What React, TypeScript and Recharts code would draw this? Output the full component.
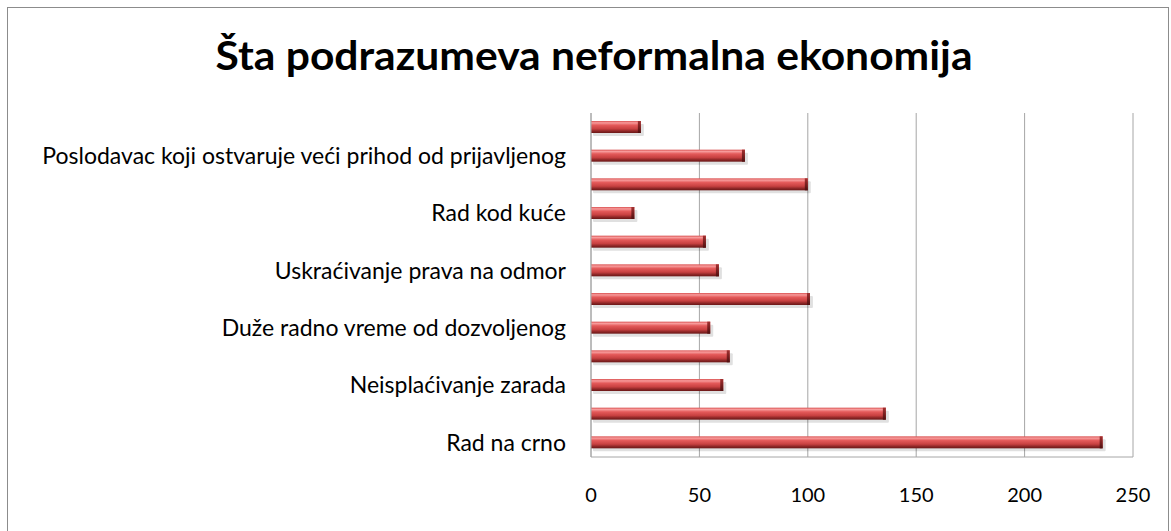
import React from "react";
import { BarChart, Bar, XAxis, YAxis, CartesianGrid } from "recharts";

const categoryIds = ["c1", "c2", "c3", "c4", "c5", "c6", "c7", "c8", "c9", "c10", "c11", "c12"];
const categoryLabels = [
  "Rad na crno ",
  "",
  "Neisplaćivanje zarada",
  "",
  "Duže radno vreme od dozvoljenog",
  "",
  "Uskraćivanje prava na odmor",
  "",
  "Rad kod kuće",
  "",
  "Poslodavac koji ostvaruje veći prihod od prijavljenog",
  "",
];
const seriesValues = [236, 136, 61, 64, 55, 101, 59, 53, 20, 100, 71, 23];
const xTicks = [0, 50, 100, 150, 200, 250];
const title = "Šta podrazumeva neformalna ekonomija";

const data = categoryIds.map((id, i) => ({ id, label: categoryLabels[i], value: seriesValues[i] }));
const labelById: Record<string, string> = {};
data.forEach((d) => (labelById[d.id] = d.label));

const FONT = "Lato, 'Open Sans', sans-serif";

const BarShape = (props: any) => {
  const { x, y, width, height } = props;
  if (!width || width <= 0) return null;
  return (
    <g>
      <rect x={x + 2} y={y + 3} width={width + 1} height={height} fill="#000" opacity={0.12} rx={1} />
      <rect x={x} y={y} width={width} height={height} fill="url(#barGrad)" />
      <rect x={x + width - 3} y={y} width={3} height={height} fill="url(#capGrad)" />
    </g>
  );
};

export default function App() {
  return (
    <div style={{ position: "relative", width: 1171, height: 531, background: "#fff", overflow: "hidden" }}>
      <style>{`body{margin:0;}`}</style>
      <div
        style={{
          position: "absolute",
          left: 7,
          top: 7,
          width: 1162,
          height: 540,
          border: "1px solid #8c8c8c",
          boxSizing: "border-box",
        }}
      />
      <svg style={{ position: "absolute", left: 0, top: 0 }} width={1171} height={110}>
        <text
          x={594}
          y={70}
          textAnchor="middle"
          fontFamily={FONT}
          fontWeight={700}
          fontSize={40}
          fill="#000"
          textLength={757}
          lengthAdjust="spacingAndGlyphs"
        >
          {title}
        </text>
      </svg>
      <div style={{ position: "absolute", left: 0, top: 0 }}>
        <BarChart
          width={1171}
          height={531}
          data={data}
          layout="vertical"
          margin={{ top: 113, right: 38, bottom: 34, left: 0 }}
          barCategoryGap="0%"
        >
          <defs>
            <linearGradient id="barGrad" x1="0" y1="0" x2="0" y2="1">
              <stop offset="0%" stopColor="#d95050" />
              <stop offset="15%" stopColor="#f79b9b" />
              <stop offset="35%" stopColor="#e45a5a" />
              <stop offset="65%" stopColor="#c84141" />
              <stop offset="85%" stopColor="#8c2626" />
              <stop offset="100%" stopColor="#6a1717" />
            </linearGradient>
            <linearGradient id="capGrad" x1="0" y1="0" x2="0" y2="1">
              <stop offset="0%" stopColor="#a33030" />
              <stop offset="100%" stopColor="#4f1010" />
            </linearGradient>
          </defs>
          <CartesianGrid horizontal={false} stroke="#a6a6a6" strokeWidth={1} />
          <XAxis
            type="number"
            domain={[0, 250]}
            ticks={xTicks}
            tickLine={false}
            tickSize={0}
            tickMargin={31}
            axisLine={{ stroke: "#a6a6a6" }}
            tick={{ fill: "#000", fontSize: 20, fontFamily: FONT }}
            height={40}
          />
          <YAxis
            type="category"
            dataKey="id"
            reversed
            width={591}
            interval={0}
            tickLine={false}
            tickSize={0}
            tickMargin={25}
            axisLine={{ stroke: "#a6a6a6" }}
            tickFormatter={(v: string) => labelById[v] || ""}
            tick={{ fill: "#000", fontSize: 23, fontFamily: FONT }}
          />
          <Bar dataKey="value" barSize={12} shape={<BarShape />} isAnimationActive={false} />
        </BarChart>
      </div>
    </div>
  );
}
